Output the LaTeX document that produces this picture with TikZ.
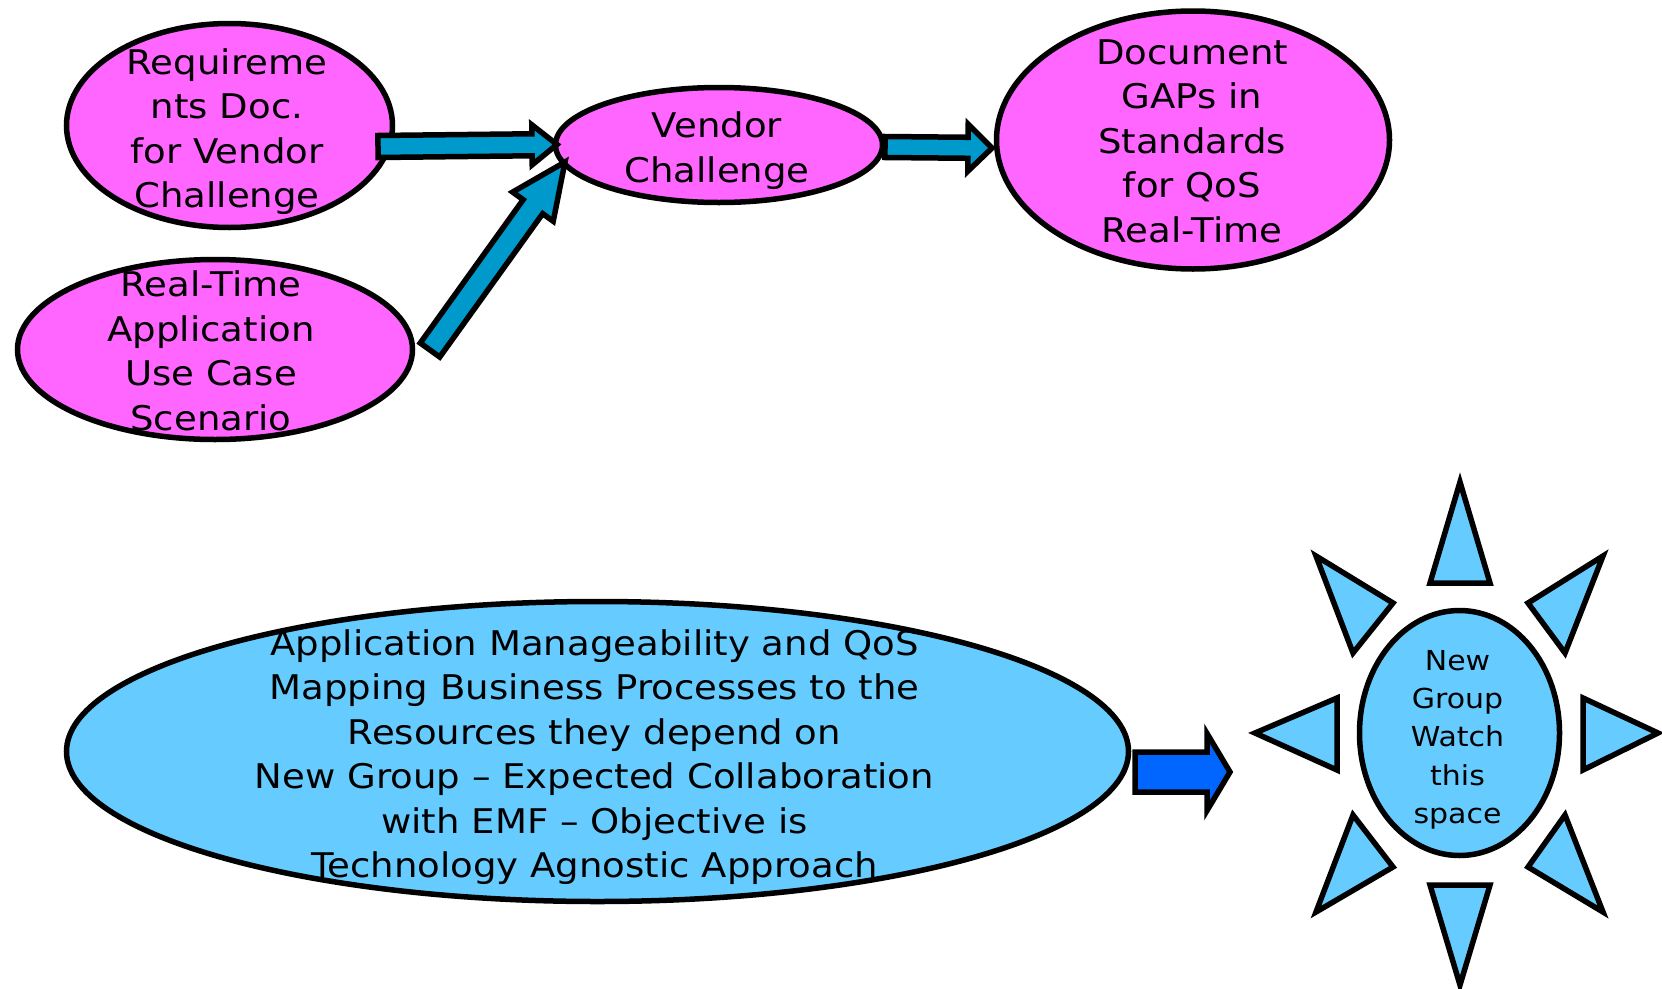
\documentclass[tikz,border=0pt]{standalone}
\usepackage{fontspec}
\setmainfont[FakeStretch=1.09]{DejaVu Sans}
\usetikzlibrary{shapes.geometric,calc}
\definecolor{pinkfill}{HTML}{FF66FF}
\definecolor{skyfill}{HTML}{66CCFF}
\definecolor{tealarrow}{HTML}{0099CC}
\definecolor{bluearrow}{HTML}{0066FF}
\tikzset{
  ell/.style={ellipse, draw=black, line width=5.5pt, inner sep=0pt},
  pinkell/.style={ell, fill=pinkfill},
  blueell/.style={ell, fill=skyfill},
  lbl/.style={align=center, inner sep=0pt, font=\fontsize{34}{44.5}\selectfont},
  sunlbl/.style={align=center, inner sep=0pt, font=\fontsize{27.5}{38.3}\selectfont},
  blockarr/.style={draw=black, line width=5.5pt, line join=miter},
  ray/.style={draw=black, line width=5.5pt, fill=skyfill, line join=miter}
}
% #1 style, #2 tail, #3 tip, #4 shaft half width, #5 head half width, #6 head length
\newcommand{\blockarrow}[6]{%
  \coordinate (ba-hb) at ($(#3)!#6!(#2)$);
  \draw[blockarr,#1] ($(#2)!#4!90:(#3)$) -- ($(ba-hb)!#4!90:(#3)$)
     -- ($(ba-hb)!#5!90:(#3)$) -- (#3) -- ($(ba-hb)!#5!-90:(#3)$)
     -- ($(ba-hb)!#4!-90:(#3)$) -- ($(#2)!#4!-90:(#3)$) -- cycle;
}
\begin{document}
\begin{tikzpicture}[x=1pt,y=-1pt]
\useasboundingbox (0,0) rectangle (1662,988);

% top ellipses
\node[pinkell, minimum width=326pt, minimum height=204pt] (req) at (229.5,125.5) {};
\node[pinkell, minimum width=395pt, minimum height=180pt] (rt) at (215,349.5) {};
\node[pinkell, minimum width=327pt, minimum height=115pt] (vc) at (719,145) {};
\node[pinkell, minimum width=393pt, minimum height=258pt] (doc) at (1193,140) {};

\node[lbl] (req-t) at (227,131.6) {Requireme\\nts Doc.\\for Vendor\\Challenge};
\node[lbl] (rt-t) at (211,350.6) {Real-Time\\Application\\Use Case\\Scenario};
\node[lbl] (vc-t) at (717,150.6) {Vendor\\Challenge};
\node[lbl] (doc-t) at (1192,141) {Document\\GAPs in\\Standards\\for QoS\\Real-Time};

% bottom
\node[blueell, minimum width=1062pt, minimum height=300pt] (big) at (597.5,751.5) {};
\node[lbl] (big-t) at (594.5,757) {Application Manageability and QoS\\Mapping Business Processes to the\\Resources they depend on\\New Group – Expected Collaboration\\with EMF – Objective is\\Technology Agnostic Approach};

\node[blueell, minimum width=200pt, minimum height=245pt] (sun) at (1459.5,733) {};
\node[sunlbl] (sun-t) at (1457.5,739.8) {New\\Group\\Watch\\this\\space};

% sun rays
\draw[ray] (1460,482) -- (1490,583) -- (1430,583) -- cycle;
\draw[ray] (1430,885) -- (1490,885) -- (1460,985) -- cycle;
\draw[ray] (1255,733) -- (1337,698) -- (1337,770) -- cycle;
\draw[ray] (1583,698) -- (1583,770) -- (1658,733) -- cycle;
\draw[ray] (1316,556) -- (1393,603) -- (1353,653) -- cycle;
\draw[ray] (1603,556) -- (1528,603) -- (1565,653) -- cycle;
\draw[ray] (1353,815) -- (1393,867) -- (1316,912) -- cycle;
\draw[ray] (1565,815) -- (1528,867) -- (1603,912) -- cycle;

% arrow end points
\coordinate (a1s) at (378,146.5);
\coordinate (a1e) at (557,144.5);
\coordinate (a2s) at (430,350);
\coordinate (a2e) at (565,162);
\coordinate (a3s) at (885,147);
\coordinate (a3e) at (992,148);
\coordinate (a4s) at (1135,772);
\coordinate (a4e) at (1230,772);

\blockarrow{fill=tealarrow}{a1s}{a1e}{11pt}{20pt}{25pt}
\blockarrow{fill=tealarrow}{a2s}{a2e}{12pt}{25pt}{55pt}
\blockarrow{fill=tealarrow}{a3s}{a3e}{10.5pt}{23.5pt}{24pt}
\blockarrow{fill=bluearrow}{a4s}{a4e}{20pt}{38.5pt}{23pt}
\end{tikzpicture}
\end{document}
